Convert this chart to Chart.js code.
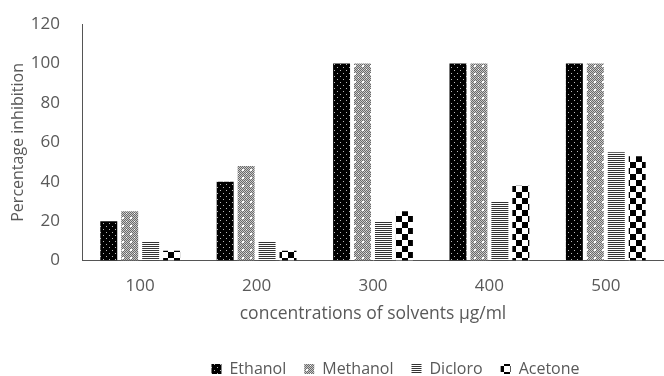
<!DOCTYPE html>
<html lang="en">
<head>
<meta charset="UTF-8">
<title>Percentage inhibition</title>
<script src="https://cdn.jsdelivr.net/npm/chart.js"></script>
<style>
    html, body { margin: 0; padding: 0; background: #ffffff; }
    .chart-container { position: relative; width: 664px; height: 376px; }
</style>
</head>
<body>
<div class="chart-container">
    <canvas id="inhibitionChart"></canvas>
</div>
<script>
    const concentrations = ['100', '200', '300', '400', '500'];
    const ethanol = [20, 40, 100, 100, 100];
    const methanol = [25, 48, 100, 100, 100];
    const dicloro = [10, 10, 20, 30, 55];
    const acetone = [5, 5, 25, 38, 53];
    const yTicks = [0, 20, 40, 60, 80, 100, 120];

    const textColor = '#595959';
    const fontFamily = "'Open Sans', 'Noto Sans', sans-serif";

    function makePattern(size, draw) {
        const c = document.createElement('canvas');
        c.width = size;
        c.height = size;
        const g = c.getContext('2d');
        draw(g, size);
        return g.createPattern(c, 'repeat');
    }

    // black with white dots
    const ethanolFill = makePattern(6, (g) => {
        g.fillStyle = '#000';
        g.fillRect(0, 0, 6, 6);
        g.fillStyle = '#bbb';
        g.fillRect(1, 1, 1, 1);
        g.fillRect(4, 4, 1, 1);
    });

    // grey checker with white flecks
    const methanolFill = makePattern(8, (g) => {
        for (let y = 0; y < 8; y++) {
            for (let x = 0; x < 8; x++) {
                g.fillStyle = (x + y) % 2 === 0 ? '#6a6a6a' : '#c8c8c8';
                g.fillRect(x, y, 1, 1);
            }
        }
        g.fillStyle = '#fff';
        g.fillRect(2, 1, 2, 2);
        g.fillRect(6, 5, 1, 1);
    });

    // horizontal stripes
    const dicloroFill = makePattern(2, (g) => {
        g.fillStyle = '#fff';
        g.fillRect(0, 0, 2, 2);
        g.fillStyle = '#333';
        g.fillRect(0, 0, 2, 1);
    });

    // large checker
    const acetoneFill = makePattern(12, (g) => {
        g.fillStyle = '#fff';
        g.fillRect(0, 0, 12, 12);
        g.fillStyle = '#000';
        g.fillRect(0, 0, 6, 6);
        g.fillRect(6, 6, 6, 6);
    });

    // legend sits right of centre and lower, as in the original
    const legendNudge = {
        id: 'legendNudge',
        afterLayout(chart) {
            const lg = chart.legend;
            if (!lg) return;
            lg.left += 59;
            lg.right += 59;
            lg.top += 11;
            lg.bottom += 11;
        }
    };

    const ctx = document.getElementById('inhibitionChart').getContext('2d');
    new Chart(ctx, {
        type: 'bar',
        data: {
            labels: concentrations,
            datasets: [
                { label: 'Ethanol', data: ethanol, backgroundColor: ethanolFill },
                { label: 'Methanol', data: methanol, backgroundColor: methanolFill },
                { label: 'Dicloro', data: dicloro, backgroundColor: dicloroFill },
                { label: 'Acetone', data: acetone, backgroundColor: acetoneFill }
            ]
        },
        options: {
            responsive: true,
            maintainAspectRatio: false,
            animation: false,
            layout: { padding: { top: 12, right: 0, left: 9, bottom: 0 } },
            datasets: {
                bar: { categoryPercentage: 0.72, barPercentage: 0.81 }
            },
            scales: {
                x: {
                    grid: { display: false },
                    border: { display: true, color: '#555555', width: 1 },
                    ticks: { color: textColor, font: { family: fontFamily, size: 17 }, padding: 7 },
                    title: {
                        display: true,
                        text: 'concentrations of solvents µg/ml',
                        color: textColor,
                        font: { family: fontFamily, size: 17.5 },
                        padding: { top: 1, bottom: 7 }
                    }
                },
                y: {
                    min: 0,
                    max: 120,
                    afterBuildTicks: (axis) => { axis.ticks = yTicks.map(v => ({ value: v })); },
                    afterFit: (axis) => { axis.width = 73; },
                    grid: { display: false },
                    border: { display: true, color: '#555555', width: 1 },
                    ticks: { color: textColor, font: { family: fontFamily, size: 17 }, padding: 14 },
                    title: {
                        display: true,
                        text: 'Percentage inhibition',
                        color: textColor,
                        font: { family: fontFamily, size: 16 },
                        padding: { top: 0, bottom: 0 }
                    }
                }
            },
            plugins: {
                legend: {
                    position: 'bottom',
                    labels: {
                        color: textColor,
                        font: { family: fontFamily, size: 16 },
                        boxWidth: 10,
                        boxHeight: 10,
                        padding: 18
                    }
                },
                tooltip: { enabled: false }
            }
        },
        plugins: [legendNudge]
    });
</script>
</body>
</html>
